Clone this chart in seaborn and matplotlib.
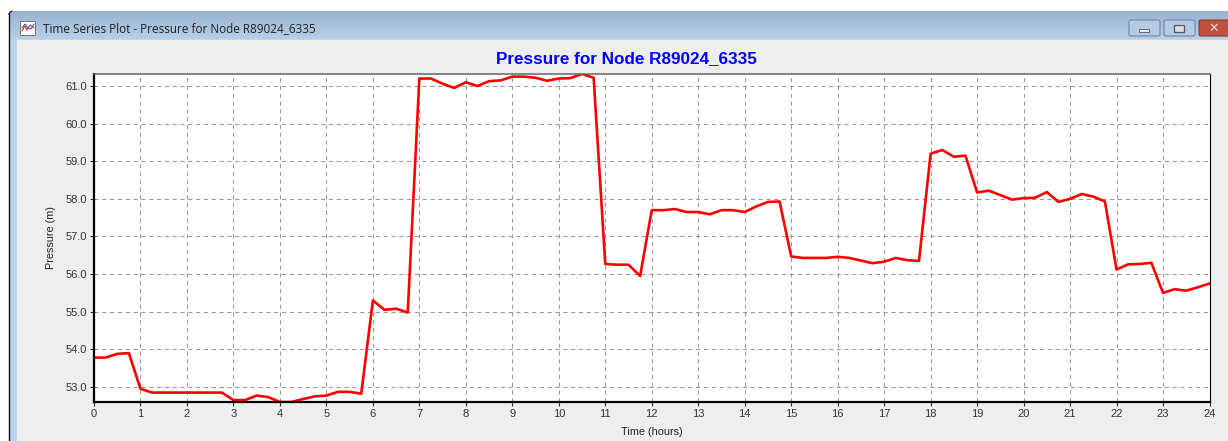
import numpy as np
import pandas as pd
import matplotlib
matplotlib.use('Agg')
import matplotlib.pyplot as plt
from matplotlib.patches import Rectangle, FancyBboxPatch
import seaborn as sns

# values, one every 15 minutes
hours = [i * 0.25 for i in range(97)]
pressure = [
    53.78, 53.78, 53.88, 53.90, 52.95, 52.85, 52.85, 52.85, 52.85, 52.85, 52.85, 52.85,
    52.65, 52.65, 52.77, 52.73, 52.60, 52.60, 52.68, 52.75, 52.77, 52.87, 52.87, 52.82,
    55.30, 55.05, 55.08, 54.98, 61.20, 61.20, 61.06, 60.95, 61.10, 61.00, 61.13, 61.15,
    61.25, 61.25, 61.22, 61.14, 61.20, 61.21, 61.32, 61.22, 56.27, 56.25, 56.25, 55.95,
    57.70, 57.70, 57.73, 57.65, 57.65, 57.59, 57.70, 57.70, 57.65, 57.80, 57.92, 57.93,
    56.47, 56.43, 56.43, 56.43, 56.46, 56.43, 56.36, 56.29, 56.33, 56.43, 56.37, 56.35,
    59.20, 59.30, 59.12, 59.15, 58.17, 58.22, 58.10, 57.98, 58.02, 58.03, 58.18, 57.92,
    58.00, 58.13, 58.06, 57.93, 56.12, 56.26, 56.27, 56.30, 55.50, 55.60, 55.56, 55.65,
    55.75,
]
x_ticks = list(range(25))
y_ticks = [53, 54, 55, 56, 57, 58, 59, 60, 61]
df = pd.DataFrame({'hours': hours, 'pressure': pressure})

W, H = 1228, 441
sns.set_theme(style='white')
plt.rcParams['font.family'] = ['Liberation Sans', 'DejaVu Sans']
fig = plt.figure(figsize=(W / 100, H / 100), dpi=100, facecolor='white')

# window chrome in pixel coords
bg = fig.add_axes([0, 0, 1, 1], zorder=0)
bg.set_xlim(0, W)
bg.set_ylim(H, 0)
bg.axis('off')
t = np.linspace(0, 1, 30)[:, None, None]
grad = t * np.array([[[0.72, 0.82, 0.92]]]) + (1 - t) * np.array([[[0.60, 0.70, 0.81]]])
bg.imshow(grad, extent=[9, W, 40, 11], aspect='auto', zorder=1)
bg.add_patch(Rectangle((9, 40), 8, H - 40, color='#b9d1ea', zorder=1))
bg.add_patch(Rectangle((17, 40), W - 17, H - 40, color='#eeeeee', zorder=1))
bg.plot([8.5, 8.5], [H, 14], color='#111111', lw=1.0, zorder=2)
bg.plot([8.5, 12], [14, 11], color='#333333', lw=1.0, zorder=2)
bg.set_xlim(0, W)
bg.set_ylim(H, 0)
bg.text(43, 28.5, 'Time Series Plot - Pressure for Node R89024_6335', fontsize=8.5,
        family='Open Sans', color='#222222', va='center', ha='left', zorder=3)
# title bar icon
bg.add_patch(Rectangle((20, 21), 15, 14, facecolor='white', edgecolor='#666666', lw=0.6, zorder=3))
bg.plot([22, 25, 27, 30, 34], [31, 26, 30, 25, 28], color='#d03030', lw=0.8, zorder=4)
bg.plot([22, 25, 28, 31, 34], [28, 24, 28, 29, 24], color='#3040b0', lw=0.7, zorder=4)
# window buttons
for bx, bw, fc, ec in [(1129, 31, '#b4cbe3', '#6f86a3'), (1164, 31, '#b4cbe3', '#6f86a3'),
                       (1199, 33, '#c4503c', '#8a3a30')]:
    bg.add_patch(FancyBboxPatch((bx, 20), bw, 16, boxstyle='round,pad=0,rounding_size=2',
                                facecolor=fc, edgecolor=ec, lw=0.8, zorder=3))
bg.add_patch(Rectangle((1139, 29), 10, 3, facecolor='#e8e8e8', edgecolor='#556', lw=0.6, zorder=4))
bg.add_patch(Rectangle((1174, 25), 10, 7, facecolor='#dddddd', edgecolor='#556', lw=0.9, zorder=4))
bg.text(1214, 28.5, '\u2715', fontsize=9, fontweight='bold', family='DejaVu Sans',
        color='#dddddd', ha='center', va='center', zorder=4)

# plot area, px 94..1209 across and 74..402 down
ax = fig.add_axes([94 / W, 1 - 402 / H, (1209.5 - 94) / W, (402 - 74) / H], zorder=1)
ax.set_facecolor('white')
sns.lineplot(data=df, x='hours', y='pressure', color='#ff0000', linewidth=1.9, ax=ax,
             errorbar=None)
ax.set_xlim(0, 24)
ax.set_ylim(52.6, 61.32)
ax.set_xticks(x_ticks)
ax.set_yticks(y_ticks)
ax.set_yticklabels([f'{v:.1f}' for v in y_ticks])
ax.grid(True, color='#999999', linestyle=(0, (4, 3.5)), linewidth=0.75)
ax.set_axisbelow(True)
ax.tick_params(axis='both', labelsize=8, colors='#333333', length=3, width=0.8, pad=2,
               left=True, bottom=True)
ax.set_xlabel('Time (hours)', fontsize=7.8, color='#222222', labelpad=5.5)
ax.set_ylabel('Pressure (m)', fontsize=7.8, color='#222222', labelpad=7)
ax.spines['left'].set_color('black')
ax.spines['left'].set_linewidth(1.6)
ax.spines['bottom'].set_color('black')
ax.spines['bottom'].set_linewidth(1.6)
ax.spines['top'].set_color('#666666')
ax.spines['top'].set_linewidth(1.1)
ax.spines['right'].set_color('black')
ax.spines['right'].set_linewidth(0.8)
ax.spines['right'].set_linestyle((0, (2, 1)))

fig.text(626 / W, 1 - 58.5 / H, 'Pressure for Node R89024_6335', fontsize=12.3, fontweight='bold',
         color='#0000ff', ha='center', va='center')

fig.savefig('out.png', dpi=100)
